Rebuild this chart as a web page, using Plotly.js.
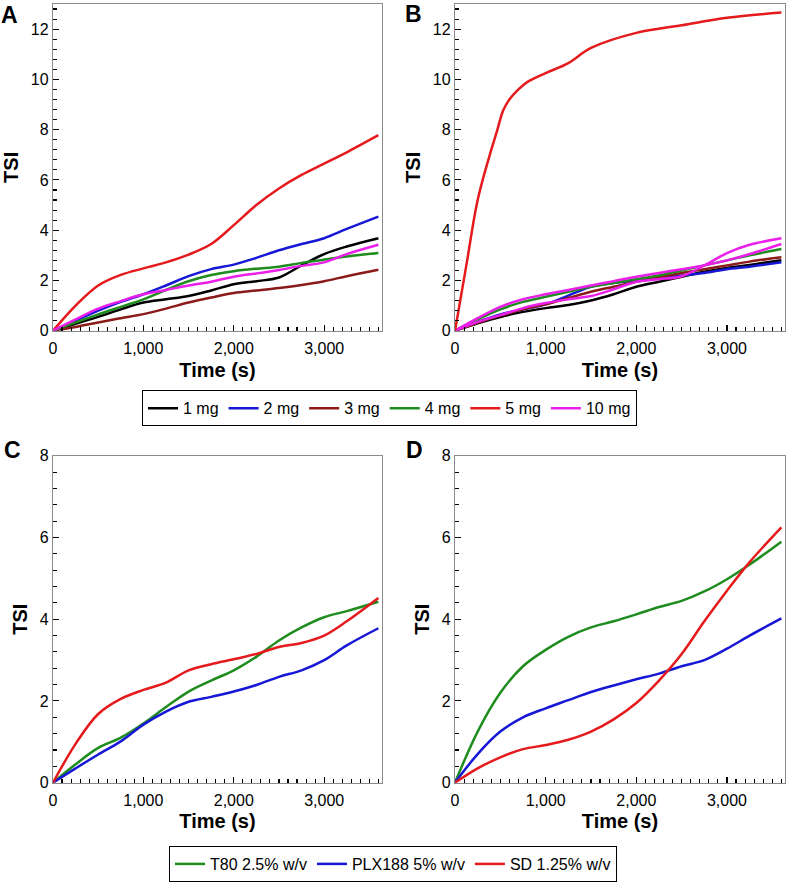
<!DOCTYPE html>
<html>
<head>
<meta charset="utf-8">
<script src="https://cdn.plot.ly/plotly-3.0.1.min.js"></script>
<style>html,body{margin:0;padding:0;background:#fff;}#chart{width:786px;height:882px;}</style>
</head>
<body>
<div id="chart"></div>
<script>
// ---- Data ----
var time = [0, 250, 500, 750, 1000, 1250, 1500, 1750, 2000, 2250, 2500, 2750, 3000, 3250, 3600];

// Panel A
var legendA = ["1 mg", "2 mg", "3 mg", "4 mg", "5 mg", "10 mg"];
var A_1mg  = [0, 0.28, 0.55, 0.85, 1.12, 1.25, 1.38, 1.60, 1.85, 1.97, 2.12, 2.60, 3.05, 3.35, 3.68];
var A_2mg  = [0, 0.40, 0.80, 1.15, 1.45, 1.80, 2.17, 2.45, 2.63, 2.90, 3.20, 3.45, 3.68, 4.05, 4.54];
var A_3mg  = [0, 0.15, 0.33, 0.50, 0.66, 0.88, 1.12, 1.32, 1.50, 1.60, 1.70, 1.82, 1.97, 2.17, 2.43];
var A_4mg  = [0, 0.33, 0.65, 0.95, 1.25, 1.62, 1.97, 2.22, 2.37, 2.47, 2.55, 2.70, 2.83, 2.95, 3.09];
var A_5mg  = [0, 1.00, 1.80, 2.22, 2.48, 2.72, 3.03, 3.45, 4.20, 5.00, 5.66, 6.20, 6.65, 7.10, 7.78];
var A_10mg = [0, 0.45, 0.88, 1.18, 1.45, 1.62, 1.80, 1.95, 2.15, 2.28, 2.42, 2.58, 2.72, 3.05, 3.42];

// Panel B
var B_1mg  = [0, 0.30, 0.55, 0.75, 0.90, 1.02, 1.20, 1.45, 1.75, 1.95, 2.15, 2.35, 2.50, 2.62, 2.80];
var B_2mg  = [0, 0.35, 0.65, 0.85, 1.05, 1.40, 1.75, 1.90, 2.00, 2.10, 2.20, 2.30, 2.45, 2.55, 2.72];
var B_3mg  = [0, 0.32, 0.60, 0.85, 1.05, 1.30, 1.55, 1.75, 1.95, 2.12, 2.30, 2.45, 2.60, 2.75, 2.92];
var B_4mg  = [0, 0.45, 0.85, 1.15, 1.35, 1.55, 1.75, 1.90, 2.05, 2.20, 2.40, 2.60, 2.80, 3.00, 3.25];
var B_10mg = [0, 0.50, 0.95, 1.25, 1.45, 1.62, 1.80, 1.97, 2.15, 2.30, 2.45, 2.60, 2.80, 3.05, 3.45];
var B_10mgB = [0, 0.35, 0.62, 0.90, 1.10, 1.25, 1.38, 1.65, 1.95, 2.05, 2.17, 2.60, 3.09, 3.42, 3.68];
var timeB5 = [0, 125, 250, 380, 460, 530, 600, 700, 800, 1000, 1250, 1500, 2000, 2500, 3000, 3600];
var B_5mg  = [0, 2.6, 5.2, 6.95, 7.9, 8.75, 9.2, 9.6, 9.9, 10.25, 10.65, 11.25, 11.85, 12.15, 12.45, 12.66];

// Panels C and D
var legendC = ["T80 2.5% w/v", "PLX188 5% w/v", "SD 1.25% w/v"];
var C_T80 = [0, 0.45, 0.85, 1.10, 1.45, 1.85, 2.23, 2.50, 2.75, 3.08, 3.48, 3.80, 4.05, 4.20, 4.43];
var C_PLX = [0, 0.35, 0.69, 1.01, 1.42, 1.74, 1.98, 2.10, 2.23, 2.39, 2.59, 2.75, 3.00, 3.36, 3.78];
var C_SD  = [0, 0.95, 1.68, 2.05, 2.27, 2.45, 2.75, 2.90, 3.02, 3.15, 3.32, 3.42, 3.60, 3.95, 4.52];
var D_T80 = [0, 1.25, 2.20, 2.85, 3.25, 3.57, 3.80, 3.95, 4.12, 4.30, 4.45, 4.68, 4.98, 5.34, 5.90];
var D_PLX = [0, 0.70, 1.25, 1.60, 1.82, 2.02, 2.22, 2.38, 2.53, 2.67, 2.85, 3.00, 3.28, 3.60, 4.02];
var D_SD  = [0, 0.35, 0.62, 0.82, 0.92, 1.05, 1.25, 1.55, 1.95, 2.50, 3.15, 3.95, 4.70, 5.40, 6.25];

// ---- Styling ----
var COL = {black:"#000000", blue:"#1717d6", brown:"#8b1a1a", green:"#1e8c1e", red:"#e41a1c", magenta:"#ea20ea"};
var FONT = "Liberation Sans, Arial, sans-serif";
var LW = 2.5;

function tr(x, y, name, color, xa, ya, show, leg) {
  return {x:x, y:y, name:name, type:"scatter", mode:"lines",
    line:{color:color, width:LW, shape:"spline", smoothing:1},
    xaxis:xa, yaxis:ya, showlegend:show, legend:leg, hoverinfo:"skip"};
}

var data = [
  tr(time, A_1mg,  legendA[0], COL.black,  "x", "y", true, "legend"),
  tr(time, A_2mg,  legendA[1], COL.blue,   "x", "y", true, "legend"),
  tr(time, A_3mg,  legendA[2], COL.brown,  "x", "y", true, "legend"),
  tr(time, A_4mg,  legendA[3], COL.green,  "x", "y", true, "legend"),
  tr(time, A_5mg,  legendA[4], COL.red,    "x", "y", true, "legend"),
  tr(time, A_10mg, legendA[5], COL.magenta,"x", "y", true, "legend"),

  tr(time, B_1mg,  legendA[0], COL.black,  "x2", "y2", false, "legend"),
  tr(time, B_2mg,  legendA[1], COL.blue,   "x2", "y2", false, "legend"),
  tr(time, B_3mg,  legendA[2], COL.brown,  "x2", "y2", false, "legend"),
  tr(time, B_4mg,  legendA[3], COL.green,  "x2", "y2", false, "legend"),
  tr(time, B_10mgB,legendA[5], COL.magenta,"x2", "y2", false, "legend"),
  tr(time, B_10mg, legendA[5], COL.magenta,"x2", "y2", false, "legend"),
  tr(timeB5, B_5mg,legendA[4], COL.red,    "x2", "y2", false, "legend"),

  tr(time, C_T80, legendC[0], COL.green, "x3", "y3", true, "legend2"),
  tr(time, C_PLX, legendC[1], COL.blue,  "x3", "y3", true, "legend2"),
  tr(time, C_SD,  legendC[2], COL.red,   "x3", "y3", true, "legend2"),

  tr(time, D_T80, legendC[0], COL.green, "x4", "y4", false, "legend2"),
  tr(time, D_PLX, legendC[1], COL.blue,  "x4", "y4", false, "legend2"),
  tr(time, D_SD,  legendC[2], COL.red,   "x4", "y4", false, "legend2")
];

var W = 786, H = 882;
function px2x(p){ return p / W; }
function px2y(p){ return 1 - p / H; }

function xax(l, r, anchor) {
  return {domain:[px2x(l), px2x(r)], anchor:anchor, range:[0, 3640],
    tickmode:"linear", tick0:0, dtick:1000, tickformat:",d",
    ticks:"inside", ticklen:6, tickwidth:1.1, tickcolor:"#000000",
    minor:{dtick:100, tick0:0, ticks:"inside", ticklen:3.5, tickcolor:"#000000", tickwidth:1.1, showgrid:false},
    showline:true, linecolor:"#8a8a8a", linewidth:1.2, mirror:true,
    showgrid:false, zeroline:false, layer:"above traces",
    tickfont:{family:FONT, size:16, color:"#000"}, ticklabelstandoff:3,
    title:{text:"<b>Time (s)</b>", font:{family:FONT, size:20, color:"#000"}, standoff:6},
    fixedrange:true};
}
function yax(t, b, anchor, ymax) {
  return {domain:[px2y(b), px2y(t)], anchor:anchor, range:[0, ymax],
    tickmode:"linear", dtick:2, tick0:0,
    ticks:"inside", ticklen:6, tickwidth:1.1, tickcolor:"#000000",
    minor:{dtick:0.4, tick0:0, ticks:"inside", ticklen:3.5, tickcolor:"#000000", tickwidth:1.1, showgrid:false},
    showline:true, linecolor:"#8a8a8a", linewidth:1.2, mirror:true,
    showgrid:false, zeroline:false, layer:"above traces",
    tickfont:{family:FONT, size:16, color:"#000"},
    title:{text:"<b>TSI</b>", font:{family:FONT, size:20, color:"#000"}, standoff:6},
    fixedrange:true};
}

function letter(t, x, y) {
  return {text:"<b>"+t+"</b>", xref:"paper", yref:"paper", x:px2x(x), y:px2y(y),
    xanchor:"left", yanchor:"middle", showarrow:false,
    font:{family:FONT, size:23, color:"#000"}};
}

var layout = {
  width:W, height:H,
  margin:{l:0, r:0, t:0, b:0},
  paper_bgcolor:"#fff", plot_bgcolor:"#fff",
  font:{family:FONT, color:"#000"},
  xaxis:  xax(53, 382, "y"),
  yaxis:  yax(4, 333, "x", 13),
  xaxis2: xax(455, 785, "y2"),
  yaxis2: yax(4, 333, "x2", 13),
  xaxis3: xax(53, 382, "y3"),
  yaxis3: yax(459, 788, "x3", 8),
  xaxis4: xax(455, 785, "y4"),
  yaxis4: yax(459, 788, "x4", 8),
  legend:{orientation:"h", x:px2x(389.5), xanchor:"center", y:px2y(393), yanchor:"top",
    bordercolor:"#000", borderwidth:1, bgcolor:"#fff",
    font:{family:FONT, size:16, color:"#000"}, itemwidth:30, tracegroupgap:0},
  legend2:{orientation:"h", x:px2x(393), xanchor:"center", y:px2y(852), yanchor:"top",
    bordercolor:"#000", borderwidth:1, bgcolor:"#fff",
    font:{family:FONT, size:16, color:"#000"}, itemwidth:30, tracegroupgap:0},
  annotations:[letter("A", -1, 15), letter("B", 403, 14), letter("C", 2, 453), letter("D", 404, 453)],
  showlegend:true
};

Plotly.newPlot("chart", data, layout, {staticPlot:true, displayModeBar:false});
</script>
</body>
</html>
